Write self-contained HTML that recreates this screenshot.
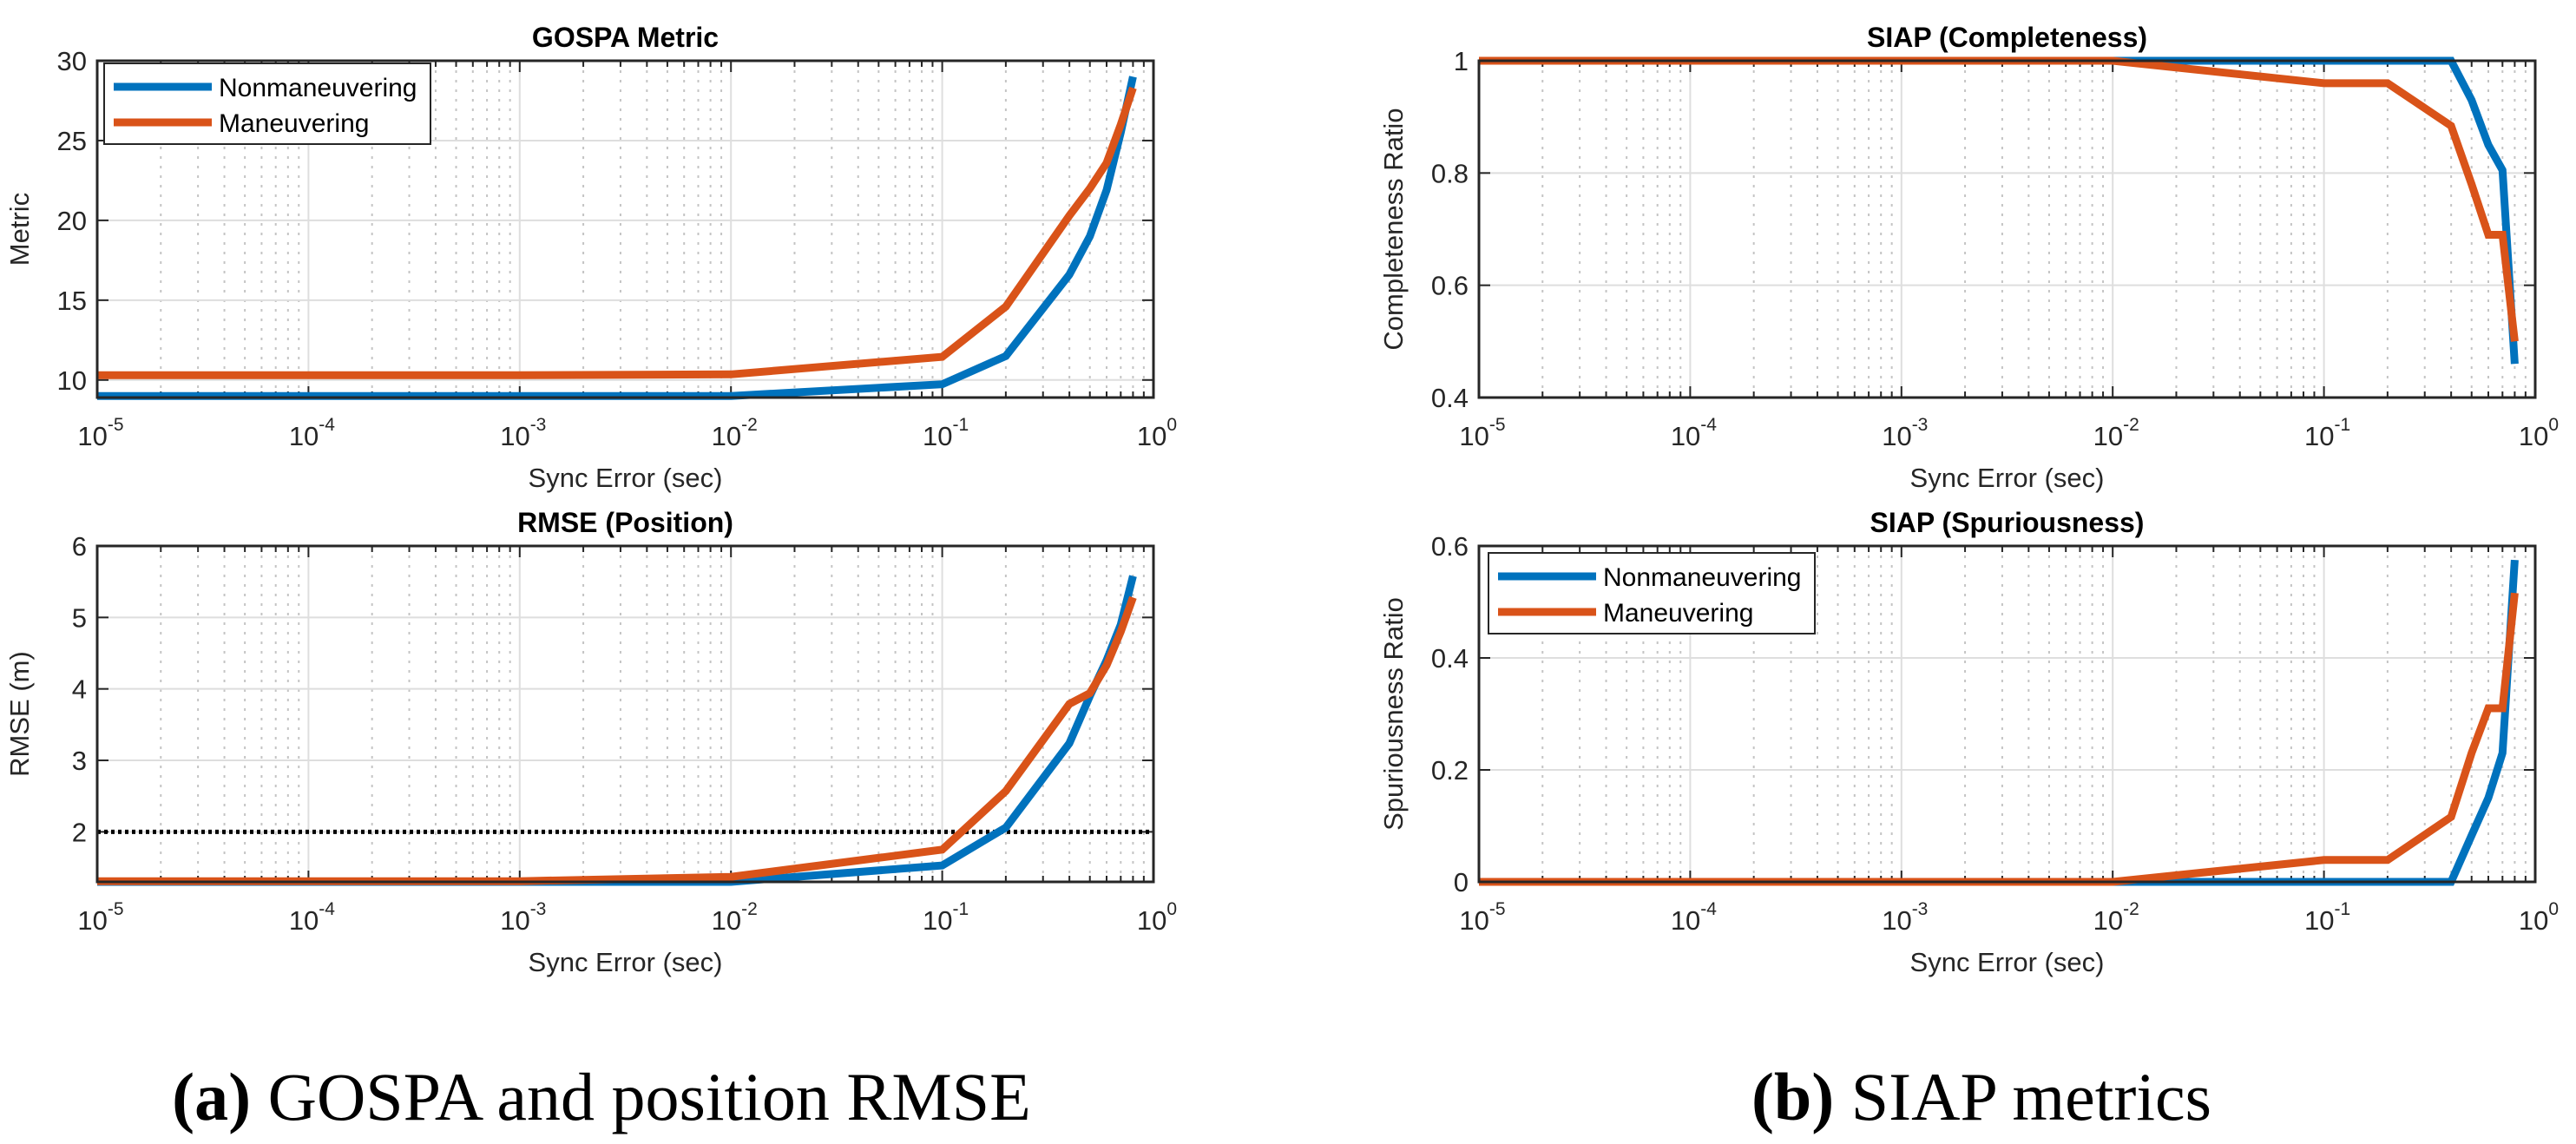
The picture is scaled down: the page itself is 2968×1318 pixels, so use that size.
<!DOCTYPE html>
<html><head><meta charset="utf-8">
<style>
html,body{margin:0;padding:0;background:#fff;}
svg{display:block;}
text{font-family:"Liberation Sans",sans-serif;fill:#262626;}
</style></head>
<body>
<svg id="fig" width="2968" height="1318" viewBox="0 0 2968 1318" xmlns="http://www.w3.org/2000/svg">
<text x="693" y="1290" text-anchor="middle" style="font-family:'Liberation Serif',serif;font-size:78px;fill:#000;"><tspan font-weight="bold">(a)</tspan> GOSPA and position RMSE</text>
<text x="2283" y="1290" text-anchor="middle" style="font-family:'Liberation Serif',serif;font-size:78px;fill:#000;"><tspan font-weight="bold">(b)</tspan> SIAP metrics</text>
</svg>
<script>
const xVals = [1e-5, 1e-4, 1e-3, 1e-2, 0.1, 0.2, 0.4, 0.5, 0.6, 0.7, 0.8];
const gospaNonman = [9.0, 9.0, 9.0, 9.0, 9.73, 11.5, 16.6, 19.0, 21.9, 25.5, 29.0];
const gospaMan = [10.3, 10.3, 10.3, 10.35, 11.45, 14.6, 20.3, 22.0, 23.6, 26.0, 28.3];
const rmseNonman = [1.3, 1.3, 1.3, 1.3, 1.53, 2.06, 3.24, 3.9, 4.4, 4.9, 5.58];
const rmseMan = [1.31, 1.31, 1.31, 1.37, 1.75, 2.57, 3.79, 3.94, 4.33, 4.8, 5.28];
const complNonman = [1, 1, 1, 1, 1, 1, 1, 0.93, 0.85, 0.805, 0.46];
const complMan = [1, 1, 1, 1, 0.96, 0.96, 0.884, 0.78, 0.69, 0.69, 0.5];
const spurNonman = [0, 0, 0, 0, 0, 0, 0, 0.083, 0.15, 0.23, 0.575];
const spurMan = [0, 0, 0, 0, 0.039, 0.039, 0.116, 0.23, 0.31, 0.31, 0.516];
const gospaTicks = [10, 15, 20, 25, 30];
const rmseTicks = [2, 3, 4, 5, 6];
const complTicks = [0.4, 0.6, 0.8, 1];
const spurTicks = [0, 0.2, 0.4, 0.6];
const xDecades = [-5, -4, -3, -2, -1, 0];
const seriesNames = ["Nonmaneuvering", "Maneuvering"];
const rmseThreshold = 2;

const NS = "http://www.w3.org/2000/svg";
const svg = document.getElementById("fig");
const BLUE = "#0072BD", ORANGE = "#D95319";
function mk(tag, attrs, parent) {
  const e = document.createElementNS(NS, tag);
  for (const k in attrs) e.setAttribute(k, attrs[k]);
  (parent || svg).appendChild(e);
  return e;
}
function panel(cfg) {
  const g = mk("g", {});
  
  
  const L = cfg.x0, R = cfg.x1, T = cfg.y0, B = cfg.y1;
  const xs = v => L + (Math.log10(v) + 5) / 5 * (R - L);
  const ys = v => B - (v - cfg.ymin) / (cfg.ymax - cfg.ymin) * (B - T);
  for (let d = -5; d < 0; d++) {
    for (let m = 2; m <= 9; m++) {
      const x = xs(m * Math.pow(10, d));
      const ln = mk("line", {x1: x, x2: x, y1: T, y2: B, stroke: "#c4c4c4", "stroke-width": 2, "stroke-dasharray": "3 8"}, g);
      
      
      mk("line", {x1: x, x2: x, y1: B, y2: B - 7, stroke: "#262626", "stroke-width": 2}, g);
      mk("line", {x1: x, x2: x, y1: T, y2: T + 7, stroke: "#262626", "stroke-width": 2}, g);
    }
  }
  xDecades.forEach(d => {
    const x = xs(Math.pow(10, d));
    const ln = mk("line", {x1: x, x2: x, y1: T, y2: B, stroke: "#dedede", "stroke-width": 2}, g);
    
    
    mk("line", {x1: x, x2: x, y1: B, y2: B - 13, stroke: "#262626", "stroke-width": 2}, g);
    mk("line", {x1: x, x2: x, y1: T, y2: T + 13, stroke: "#262626", "stroke-width": 2}, g);
    const t = mk("text", {x: x + 4, y: B + 55, "text-anchor": "middle", "font-size": 31}, g);
    
    
    t.textContent = "10";
    const s = mk("tspan", {dy: -17, "font-size": 21}, t);
    s.textContent = d === 0 ? "0" : String(d);
  });
  cfg.ticks.forEach(v => {
    const y = ys(v);
    const ln = mk("line", {x1: L, x2: R, y1: y, y2: y, stroke: "#dedede", "stroke-width": 2}, g);
    
    
    mk("line", {x1: L, x2: L + 13, y1: y, y2: y, stroke: "#262626", "stroke-width": 2}, g);
    mk("line", {x1: R, x2: R - 13, y1: y, y2: y, stroke: "#262626", "stroke-width": 2}, g);
    const t = mk("text", {x: L - 12, y: y + 11, "text-anchor": "end", "font-size": 31}, g);
    
    
    t.textContent = String(v);
  });
  const cid = "clip-" + cfg.name;
  const cp = mk("clipPath", {id: cid}, g);
  mk("rect", {x: L, y: T - 6, width: R - L, height: B - T + 12}, cp);
  if (cfg.threshold !== undefined) {
    const y = ys(cfg.threshold);
    const th = mk("line", {x1: L, x2: R, y1: y, y2: y, stroke: "#000", "stroke-width": 5, "stroke-dasharray": "4 4"}, g);
    
    
  }
  const cols = [BLUE, ORANGE];
  cfg.series.forEach((arr, i) => {
    const pts = arr.map((v, k) => xs(xVals[k]).toFixed(1) + "," + ys(v).toFixed(1)).join(" ");
    const pl = mk("polyline", {points: pts, fill: "none", stroke: cols[i], "stroke-width": 9, "stroke-linejoin": "miter", "clip-path": "url(#" + cid + ")"}, g);
    
    
  });
  const box = mk("rect", {x: L, y: T, width: R - L, height: B - T, fill: "none", stroke: "#262626", "stroke-width": 3}, g);
  
  
  const tt = mk("text", {x: (L + R) / 2, y: T - 16, "text-anchor": "middle", "font-size": 32, "font-weight": "bold", fill: "#000"}, g);
  
  
  tt.textContent = cfg.title;
  tt.style.fill = "#000";
  const xl = mk("text", {x: (L + R) / 2, y: B + 103, "text-anchor": "middle", "font-size": 31}, g);
  
  
  xl.textContent = "Sync Error (sec)";
  const yc = (T + B) / 2;
  const yl = mk("text", {x: cfg.ylx, y: yc, "text-anchor": "middle", "font-size": 31, transform: "rotate(-90 " + cfg.ylx + " " + yc + ")"}, g);
  
  
  yl.textContent = cfg.ylabel;
  if (cfg.legend) {
    const lg = mk("g", {}, g);
    
    
    const lx = cfg.legend[0], ly = cfg.legend[1];
    mk("rect", {x: lx, y: ly, width: 376, height: 93, fill: "#fff", stroke: "#262626", "stroke-width": 2}, lg);
    seriesNames.forEach((n, i) => {
      const yy = ly + 27 + i * 41;
      const e = mk("line", {x1: lx + 11, x2: lx + 124, y1: yy, y2: yy, stroke: cols[i], "stroke-width": 9}, lg);
      
      
      const t = mk("text", {x: lx + 132, y: yy + 11, "font-size": 30, fill: "#000"}, lg);
      
      
      t.textContent = n;
      t.style.fill = "#000";
    });
  }
}
panel({name: "gospa-plot", title: "GOSPA Metric", ylabel: "Metric", x0: 112, x1: 1329, y0: 70, y1: 458, ymin: 8.9, ymax: 30, ticks: gospaTicks, series: [gospaNonman, gospaMan], ylx: 33, legend: [120, 73]});
panel({name: "rmse-plot", title: "RMSE (Position)", ylabel: "RMSE (m)", x0: 112, x1: 1329, y0: 629, y1: 1016, ymin: 1.3, ymax: 6, ticks: rmseTicks, series: [rmseNonman, rmseMan], ylx: 33, threshold: rmseThreshold});
panel({name: "completeness-plot", title: "SIAP (Completeness)", ylabel: "Completeness Ratio", x0: 1704, x1: 2921, y0: 70, y1: 458, ymin: 0.4, ymax: 1, ticks: complTicks, series: [complNonman, complMan], ylx: 1616});
panel({name: "spuriousness-plot", title: "SIAP (Spuriousness)", ylabel: "Spuriousness Ratio", x0: 1704, x1: 2921, y0: 629, y1: 1016, ymin: 0, ymax: 0.6, ticks: spurTicks, series: [spurNonman, spurMan], ylx: 1616, legend: [1715, 637]});
</script>
</body></html>
